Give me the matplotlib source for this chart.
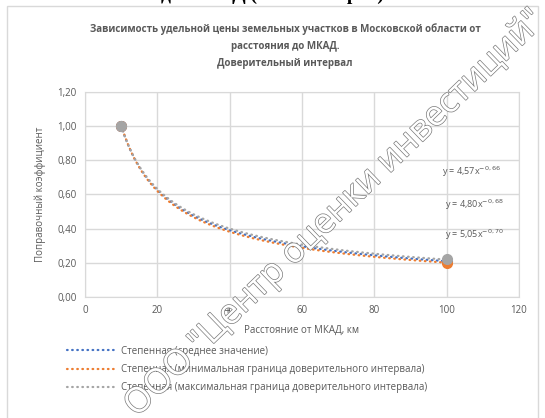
import numpy as np
import matplotlib
matplotlib.use("Agg")
import matplotlib.pyplot as plt
import matplotlib.patheffects as pe
from matplotlib.patches import Rectangle

plt.rcParams['font.family'] = ['Open Sans', 'DejaVu Sans']

# data points (distance km, coefficient)
x_pts = [10, 100]
y_mean = [1.00, 0.21]
y_min = [1.00, 0.20]
y_max = [1.00, 0.22]

# power trendlines y = a * x^b as shown on the chart
coef_a = [4.80, 5.05, 4.57]   # mean, min, max
coef_b = [-0.68, -0.70, -0.66]

series_names = ["Степенная (среднее значение)",
                "Степенная (минимальная граница доверительного интервала)",
                "Степенная (максимальная граница доверительного интервала)"]
colors = ["#4472C4", "#ED7D31", "#A5A5A5"]

x_ticks = [0, 20, 40, 60, 80, 100, 120]
y_ticks = [0.0, 0.2, 0.4, 0.6, 0.8, 1.0, 1.2]

txt = "#595959"
grid = "#D9D9D9"

fig = plt.figure(figsize=(5.45, 4.18), dpi=100)
ax = fig.add_axes([0.156, 0.2895, 0.796, 0.4905])

# outer chart border
fig.patches.append(Rectangle((0.013, -0.05), 0.974, 1.036, transform=fig.transFigure,
                             fill=False, edgecolor=grid, linewidth=1))

xx = np.linspace(x_pts[0], x_pts[-1], 200)
handles = []
for a, b, c, name in zip(coef_a, coef_b, colors, series_names):
    h, = ax.plot(xx, a * xx ** b, color=c, linewidth=1.6, linestyle=(0, (0.3, 2.0)),
                 dash_capstyle='round', label=name, zorder=3)
    handles.append(h)

for ys, c in zip([y_mean, y_min, y_max], colors):
    ax.plot(x_pts, ys, linestyle='none', marker='o', markersize=7, color=c, zorder=4)

# equation labels
eq_pos = [(99.5, 0.539), (99.5, 0.363), (98.7, 0.732)]
for a, b, (px, py) in zip(coef_a, coef_b, eq_pos):
    a_s = f"{a:.2f}".replace('.', ',')
    b_s = f"{b:.2f}".replace('.', ',').replace('-', '\u2212')
    ax.text(px, py, f"y = {a_s}x$^{{{b_s}}}$", fontsize=6.5, color=txt, va='center', ha='left')

ax.set_xlim(0, 120)
ax.set_ylim(0, 1.2)
ax.set_xticks(x_ticks)
ax.set_yticks(y_ticks)
ax.set_xticklabels([str(v) for v in x_ticks])
ax.set_yticklabels([f"{v:.2f}".replace('.', ',') for v in y_ticks])
ax.tick_params(length=0, labelsize=7, labelcolor=txt, pad=6)
ax.grid(True, color=grid, linewidth=1)
ax.set_axisbelow(True)
for s in ax.spines.values():
    s.set_color(grid)

ax.set_xlabel("Расстояние от МКАД, км", fontsize=7, color=txt, labelpad=6)
ax.set_ylabel("Поправочный коэффициент", fontsize=7, color=txt, labelpad=8)

fig.text(0.523, 0.890, "Зависимость удельной цены земельных участков в Московской области от\n"
         "расстояния до МКАД.\nДоверительный интервал",
         ha='center', va='center', fontsize=7, fontweight='bold', color=txt, linespacing=1.75)

# cut-off heading above the chart
fig.text(0.50, 1.012, "до МКАД (в километрах)", ha='center', va='center', fontsize=14,
         fontweight='bold', family='Liberation Serif', color='black')

fig.legend(handles=handles, loc='upper left', bbox_to_anchor=(0.115, 0.182), frameon=False,
           fontsize=7, labelcolor=txt, handlelength=5.2, handletextpad=0.4, labelspacing=0.75,
           borderaxespad=0)

# watermark
fig.text(0.615, 0.49, 'ООО "Центр оценки инвестиций"', rotation=44, ha='center', va='center',
         fontsize=25, color='white',
         path_effects=[pe.Stroke(linewidth=1.0, foreground='#7a7a7a'), pe.Normal()], zorder=10)

fig.savefig("out.png", dpi=100)
